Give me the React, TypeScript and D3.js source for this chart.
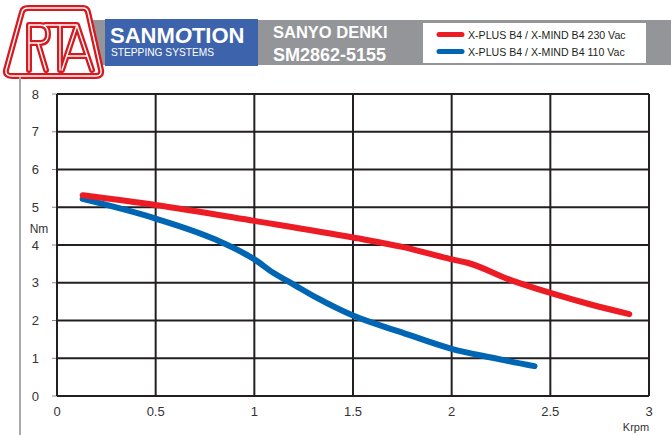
import React from 'react';
import * as d3 from 'd3';

const xTicks = [0, 0.5, 1, 1.5, 2, 2.5, 3];
const xTickLabels = ['0', '0.5', '1', '1.5', '2', '2.5', '3'];
const yTicks = [0, 1, 2, 3, 4, 5, 6, 7, 8];

// torque curves: [Krpm, Nm]
const red230: [number, number][] = [
  [0.13, 5.32], [0.5, 5.06], [1.0, 4.64], [1.5, 4.2], [1.75, 3.95], [2.0, 3.62],
  [2.08, 3.53], [2.3, 3.07], [2.5, 2.73], [2.7, 2.43], [2.9, 2.17],
];
const blue110: [number, number][] = [
  [0.13, 5.22], [0.5, 4.7], [0.8, 4.15], [1.0, 3.62], [1.1, 3.25], [1.2, 2.95],
  [1.32, 2.59], [1.5, 2.13], [1.75, 1.68], [2.0, 1.25], [2.2, 1.02], [2.42, 0.79],
];

const legendLabels = ['X-PLUS B4 / X-MIND B4 230 Vac', 'X-PLUS B4 / X-MIND B4 110 Vac'];
const legendColors = ['#ed1c24', '#0066b3'];

const FONT = '"Liberation Sans", Arial, Helvetica, sans-serif';

const App = () => {
  const width = 671;
  const height = 435;

  const x = d3.scaleLinear().domain([0, 3]).range([57, 649]);
  const y = d3.scaleLinear().domain([0, 8]).range([396, 94]);

  const line = d3.line<[number, number]>()
    .x(d => x(d[0]))
    .y(d => y(d[1]))
    .curve(d3.curveMonotoneX);

  const grid = '#231f20';

  return (
    <svg width={width} height={height} style={{ position: 'absolute', left: 0, top: 0 }}>
      <rect width={width} height={height} fill="#fff" />

      {/* header band */}
      <rect x={92} y={20} width={579} height={45} fill="#939598" />
      <rect x={105} y={19} width={153} height={47} fill="#3e63ad" />
      <text x={110} y={43} fill="#fff" fontFamily={FONT} fontWeight="bold" fontSize={22}>
        SANM<tspan fontStyle="italic">O</tspan>TION
      </text>
      <text x={111} y={55.5} fill="#fff" fontFamily={FONT} fontSize={10.2}>STEPPING SYSTEMS</text>
      <text x={273} y={38} fill="#fff" fontFamily={FONT} fontWeight="bold" fontSize={16.5}>SANYO DENKI</text>
      <text x={273} y={61} fill="#fff" fontFamily={FONT} fontWeight="bold" fontSize={18}>SM2862-5155</text>

      {/* legend */}
      <rect x={423} y={23} width={223} height={40} fill="#fff" />
      {legendLabels.map((l, i) => (
        <g key={l}>
          <line x1={439} x2={462} y1={34.5 + i * 17} y2={34.5 + i * 17}
            stroke={legendColors[i]} strokeWidth={5} strokeLinecap="round" />
          <text x={468} y={38.5 + i * 17} fontFamily={FONT} fontSize={10.6} fill="#231f20">{l}</text>
        </g>
      ))}

      {/* logo */}
      <g fill="none" strokeLinejoin="round" strokeLinecap="round">
        <path d="M28 8 H83 Q87 8 88 12 L101 70 Q102 76 96 76 H12 Q5 76 6 70 L22 12 Q23 8 28 8 Z"
          fill="#fff" stroke="#d71920" strokeWidth={6} />
        <path d="M28 8 H83 Q87 8 88 12 L101 70 Q102 76 96 76 H12 Q5 76 6 70 L22 12 Q23 8 28 8 Z"
          stroke="#fff" strokeWidth={1.4} />
        <path d="M29 70 V25 H40 Q48 25 48 34 Q48 43 40 43 H30 M38 43 L46 70 M45 25 H76 M60 25 V70 M62 70 L77 25 L92 70 M67 56 H87"
          stroke="#d71920" strokeWidth={6} />
        <path d="M29 70 V25 H40 Q48 25 48 34 Q48 43 40 43 H30 M38 43 L46 70 M45 25 H76 M60 25 V70 M62 70 L77 25 L92 70 M67 56 H87"
          stroke="#fff" strokeWidth={1.4} />
      </g>

      {/* left gray rule */}
      <line x1={20} x2={20} y1={77} y2={435} stroke="#a7a9ac" strokeWidth={2} />

      {/* grid */}
      {yTicks.map(t => (
        <g key={'y' + t}>
          <line x1={52} x2={57} y1={y(t)} y2={y(t)} stroke="#8a8a8a" strokeWidth={1} />
          <line x1={x(0)} x2={x(3)} y1={y(t)} y2={y(t)} stroke={grid} strokeWidth={2} />
          <text x={39} y={y(t)} dy="0.35em" textAnchor="end" fontFamily={FONT} fontSize={13} fill="#333">{t}</text>
        </g>
      ))}
      {xTicks.map((t, i) => (
        <g key={'x' + t}>
          <line x1={x(t)} x2={x(t)} y1={y(8)} y2={y(0)} stroke={grid} strokeWidth={2} />
          <text x={x(t)} y={411} dy="0.35em" textAnchor="middle" fontFamily={FONT} fontSize={13} fill="#333">{xTickLabels[i]}</text>
        </g>
      ))}
      <text x={39} y={229} dy="0.35em" textAnchor="middle" fontFamily={FONT} fontSize={12} fill="#333">Nm</text>
      <text x={636} y={427} dy="0.35em" textAnchor="middle" fontFamily={FONT} fontSize={11} fill="#333">Krpm</text>

      {/* curves */}
      <path d={line(blue110) ?? ''} fill="none" stroke={legendColors[1]} strokeWidth={6} strokeLinecap="round" strokeLinejoin="round" />
      <path d={line(red230) ?? ''} fill="none" stroke={legendColors[0]} strokeWidth={6} strokeLinecap="round" strokeLinejoin="round" />
    </svg>
  );
};

export default App;
